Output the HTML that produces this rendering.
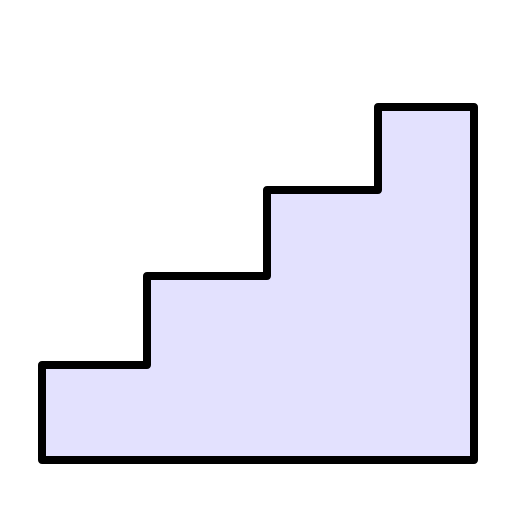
<!DOCTYPE html>
<html>
<head>
<meta charset="utf-8">
<style>
html,body{margin:0;padding:0;background:#fff;}
svg{display:block;}
</style>
</head>
<body>
<svg id="chart" width="512" height="512" viewBox="0 0 512 512" xmlns="http://www.w3.org/2000/svg">
<polygon id="stairs" fill="#e3e1fe" stroke="#000" stroke-width="8" stroke-linejoin="round" points=""></polygon>
</svg>
<script>
// step edges (x) and step top heights (y)
const stepEdges = [42, 147, 267, 378, 474];
const stepHeights = [365, 276, 190, 107];
const baseY = 460;

const pts = [];
pts.push([stepEdges[0], baseY]);
for (let i = 0; i < stepHeights.length; i++) {
  pts.push([stepEdges[i], stepHeights[i]]);
  pts.push([stepEdges[i + 1], stepHeights[i]]);
}
pts.push([stepEdges[stepEdges.length - 1], baseY]);
document.getElementById('stairs').setAttribute('points', pts.map(p => p.join(',')).join(' '));
</script>
</body>
</html>
